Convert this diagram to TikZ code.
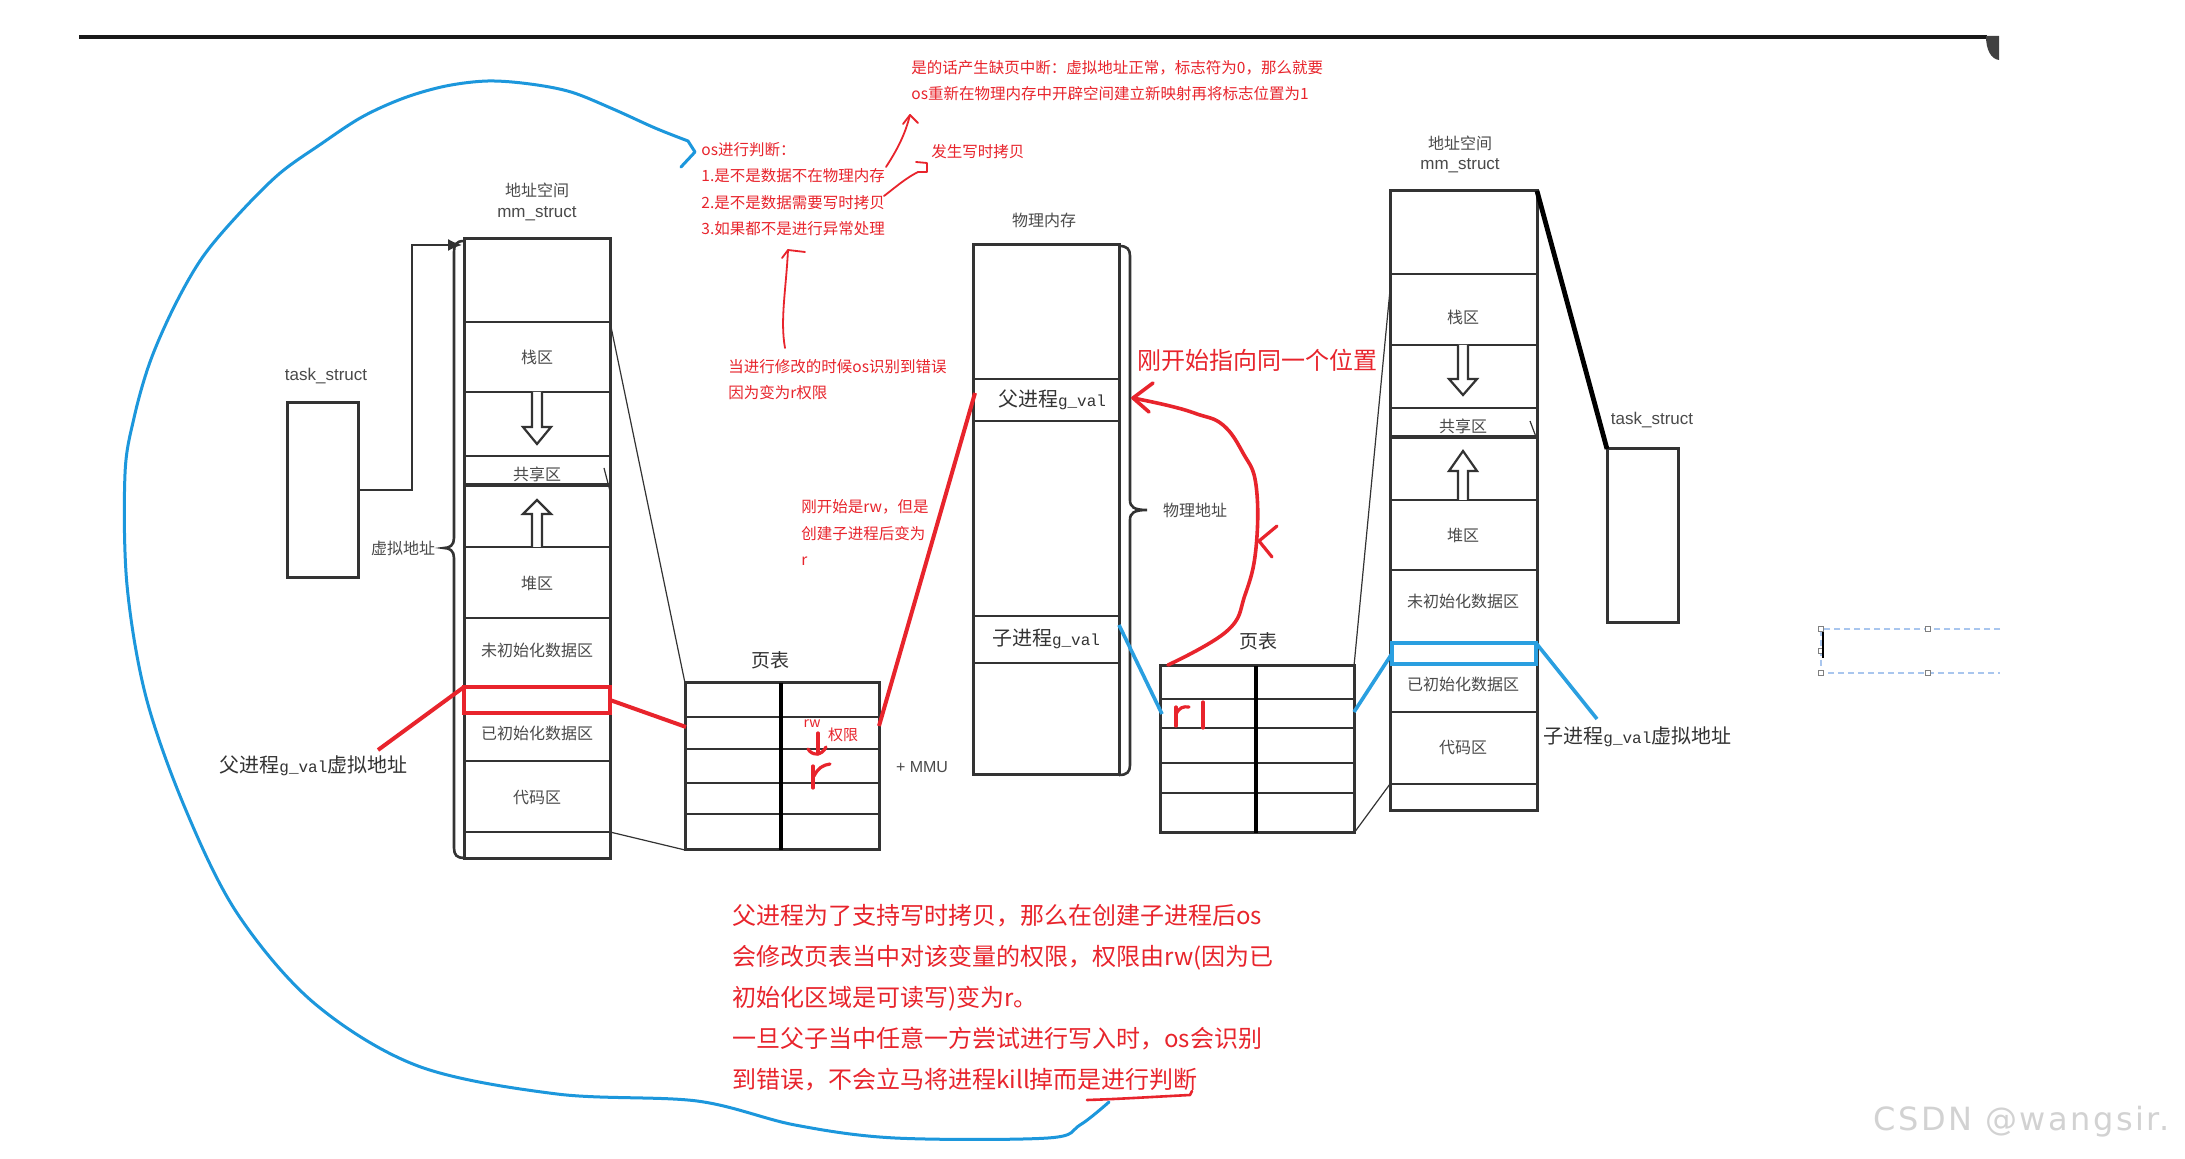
\documentclass[tikz,border=0pt]{standalone}
\usepackage{fontspec}
\setmainfont{Liberation Sans}
\newfontfamily\cjk{Noto Sans CJK SC}
\newfontfamily\monof{Liberation Mono}
\newfontfamily\wmfont[LetterSpace=8]{DejaVu Sans}
\usetikzlibrary{arrows.meta}
\definecolor{boxc}{HTML}{333333}
\definecolor{lblc}{HTML}{4A4A4A}
\definecolor{redc}{HTML}{E8242C}
\definecolor{bluec}{HTML}{2A9FE0}
\definecolor{curvec}{HTML}{1C97DC}
\definecolor{wmc}{HTML}{D2D2D2}
\definecolor{selc}{HTML}{A9C6EE}
\tikzset{
  pxrect/.style 2 args={minimum width=#1*0.5pt, minimum height=#2*0.5pt, anchor=north west, inner sep=0pt, outer sep=0pt},
  boxline/.style={draw=boxc, line width=1.5pt},
  rowline/.style={draw=boxc, line width=1.2pt},
  thinline/.style={draw=black!80, line width=0.6pt},
  midcol/.style={draw=black, line width=1.8pt},
  lbl/.style={text=lblc, inner sep=0pt, font=\cjk\fontsize{8}{9}\selectfont},
  latlbl/.style={text=lblc, inner sep=0pt, font=\fontsize{8.5}{10}\selectfont},
  vallbl/.style={text=boxc, inner sep=0pt, font=\cjk\fontsize{10}{11}\selectfont},
  rednote/.style={text=redc, inner sep=0pt, anchor=base west, align=left, font=\cjk\fontsize{7.75}{13.25}\selectfont},
  bignote/.style={text=redc, inner sep=0pt, anchor=base west, align=left, font=\cjk\fontsize{12}{20.5}\selectfont},
  redline/.style={draw=redc, line width=2pt},
  redpen/.style={draw=redc, line width=0.9pt, line cap=round, line join=round},
  redthick/.style={draw=redc, line width=1.6pt, line cap=round, line join=round},
  blueline/.style={draw=bluec, line width=1.8pt},
}
\newcommand\hollowarr[4]{\draw[draw=boxc, line width=1.1pt, fill=white] (#1-5,#2) -- (#1-5,#3) -- (#1-14,#3) -- (#1,#4) -- (#1+14,#3) -- (#1+5,#3) -- (#1+5,#2);}
\begin{document}
\begin{tikzpicture}[x=0.5pt,y=-0.5pt]
\useasboundingbox (0,0) rectangle (2185,1159);
\fill[white] (0,0) rectangle (2185,1159);
% top rule
\draw[draw=black!90, line width=2pt] (79,37) -- (1987,37);
\fill[black!75] (1986,36) -- (1999,36) -- (1999,60) .. controls (1991,59) and (1986,50) .. (1986,36) -- cycle;

% ---------- left task_struct ----------
\node[latlbl] (ltasklbl) at (326,376) {task\_struct};
\node[boxline, pxrect={71}{175}] (ltask) at (287,403) {};

% ---------- left mm_struct ----------
\node[lbl] (lmmt1) at (537,190) {地址空间};
\node[latlbl] (lmmt2) at (537,214) {mm\_struct};
\node[boxline, pxrect={146}{620}] (lmm) at (464,239) {};
\draw[rowline] (464,322) -- (610,322);
\draw[rowline] (464,392) -- (610,392);
\draw[rowline] (464,456) -- (610,456);
\draw[rowline, line width=1.8pt] (464,485) -- (610,485);
\draw[rowline] (464,547) -- (610,547);
\draw[rowline] (464,618) -- (610,618);
\draw[rowline] (464,687) -- (610,687);
\draw[rowline] (464,761) -- (610,761);
\draw[rowline] (464,832) -- (610,832);
\hollowarr{537}{392}{427}{444}
\hollowarr{537}{547}{514}{500}
\node[lbl] (lstack) at (537,357) {栈区};
\node[lbl] (lshare) at (537,474) {共享区};
\node[lbl] (lheap) at (537,583) {堆区};
\node[lbl] (lbss) at (537,650) {未初始化数据区};
\node[lbl] (ldata) at (537,733) {已初始化数据区};
\node[lbl] (lcode) at (537,798) {代码区};
\draw[thinline] (604,468) -- (610,491);
% brace of virtual addresses
\draw[boxline, line width=1.3pt] (464,241) .. controls (456,241) and (454,245) .. (454,252) -- (454,538) .. controls (454,545) and (450,548) .. (444,548) .. controls (450,548) and (454,551) .. (454,558) -- (454,848) .. controls (454,855) and (457,858) .. (464,858);
\node[lbl] (vaddr) at (403,548) {虚拟地址};
% task_struct -> mm_struct
\coordinate (lmmin) at (462,245);
\draw[draw=boxc, line width=1pt, -{Latex[length=7pt,width=6pt]}] (ltask.east) -- (412,490.5) |- (lmmin);

% red highlighted variable (parent)
\node[draw=redc, line width=2pt, pxrect={146}{26}] (redbox) at (464,687) {};
\node[vallbl, anchor=west] (lvlabel) at (219,766) {父进程{\monof\fontsize{8}{10}\selectfont g\_val}虚拟地址};
\coordinate (lvlend) at (378,750);
\draw[redline] (lvlend) -- (redbox.north west);

% ---------- left page table ----------
\node[vallbl, font=\cjk\fontsize{9.5}{10}\selectfont] (lptt) at (770,660) {页表};
\node[boxline, pxrect={194}{167}] (lpt) at (685,683) {};
\draw[rowline] (685,717) -- (879,717);
\draw[rowline] (685,749) -- (879,749);
\draw[rowline] (685,783) -- (879,783);
\draw[rowline] (685,814) -- (879,814);
\draw[midcol] (781,683) -- (781,850);
\draw[thinline] (610,322) -- (lpt.north west);
\draw[thinline] (610,832) -- (lpt.south west);
\coordinate (lptin) at (686,727);
\draw[redline] (redbox.east) -- (lptin);
\node[latlbl, font=\fontsize{8}{9}\selectfont] (mmu) at (922,767) {+ MMU};
\node[text=redc, inner sep=0pt, font=\cjk\fontsize{7}{8}\selectfont] (rwsmall) at (812,724) {rw};
\node[text=redc, inner sep=0pt, font=\cjk\fontsize{7.5}{8}\selectfont] (permlbl) at (843,735) {权限};
\draw[redthick] (818,733) -- (818,754);
\draw[redthick] (808,749) .. controls (812,756) and (822,756) .. (826,747);
\draw[redthick] (813,766) -- (813,788);
\draw[redthick] (814,776) .. controls (818,768) and (823,765) .. (830,764);

% ---------- physical memory ----------
\node[lbl] (physt) at (1044,220) {物理内存};
\node[boxline, pxrect={146}{530}] (phys) at (973,245) {};
\draw[rowline] (973,379) -- (1119,379);
\draw[rowline] (973,421) -- (1119,421);
\draw[rowline] (973,616) -- (1119,616);
\draw[rowline] (973,663) -- (1119,663);
\node[vallbl] (pval) at (1052,400) {父进程{\monof\fontsize{8}{10}\selectfont g\_val}};
\node[vallbl] (cval) at (1046,639) {子进程{\monof\fontsize{8}{10}\selectfont g\_val}};
\draw[boxline, line width=1.3pt] (1119,246) .. controls (1127,246) and (1130,249) .. (1130,256) -- (1130,500) .. controls (1130,507) and (1134,510) .. (1147,510) .. controls (1134,510) and (1130,513) .. (1130,520) -- (1130,765) .. controls (1130,772) and (1127,775) .. (1119,775);
\node[lbl] (physaddr) at (1195,510) {物理地址};
\coordinate (lptout) at (879,726);
\coordinate (pvalin) at (975,393);
\draw[redline] (lptout) -- (pvalin);

% ---------- right page table ----------
\node[vallbl, font=\cjk\fontsize{9.5}{10}\selectfont] (rptt) at (1258,641) {页表};
\node[boxline, pxrect={194}{167}] (rpt) at (1160,666) {};
\draw[rowline] (1160,699) -- (1354,699);
\draw[rowline] (1160,728) -- (1354,728);
\draw[rowline] (1160,763) -- (1354,763);
\draw[rowline] (1160,793) -- (1354,793);
\draw[midcol] (1256,666) -- (1256,833);
\draw[redthick] (1176,707) -- (1176,726);
\draw[redthick] (1176,714) .. controls (1179,708) and (1183,706) .. (1189,707);
\draw[redthick] (1203,702) -- (1203,728);
\coordinate (cvalout) at (1119,625);
\coordinate (rptin) at (1162,714);
\draw[blueline] (cvalout) -- (rptin);

% red arc: both point to the same place
\coordinate (arcs) at (1168,665);
\coordinate (arce) at (1133,398);
\draw[redthick, line width=1.8pt] plot[smooth, tension=0.7] coordinates {(arcs) (1227,631) (1245,595) (1256,548) (1256,485) (1243,453) (1223,425) (1197,414) (1170,406) (arce)};
\draw[redthick, line width=1.8pt] (1153,383) -- (arce) -- (1149,412);
\draw[redthick] (1277,526) -- (1259,541) -- (1272,557);
\node[bignote] (samepos) at (1137,370) {刚开始指向同一个位置};

% ---------- right mm_struct ----------
\node[lbl] (rmmt1) at (1460,143) {地址空间};
\node[latlbl] (rmmt2) at (1460,166) {mm\_struct};
\node[boxline, pxrect={147}{620}] (rmm) at (1390,191) {};
\draw[rowline] (1390,274) -- (1537,274);
\draw[rowline] (1390,345) -- (1537,345);
\draw[rowline] (1390,408) -- (1537,408);
\draw[rowline, line width=1.8pt] (1390,437) -- (1537,437);
\draw[rowline] (1390,500) -- (1537,500);
\draw[rowline] (1390,570) -- (1537,570);
\draw[rowline] (1390,642) -- (1537,642);
\draw[rowline] (1390,712) -- (1537,712);
\draw[rowline] (1390,784) -- (1537,784);
\hollowarr{1463}{345}{379}{395}
\hollowarr{1463}{500}{471}{451}
\node[lbl] (rstack) at (1463,317) {栈区};
\node[lbl] (rshare) at (1463,426) {共享区};
\node[lbl] (rheap) at (1463,535) {堆区};
\node[lbl] (rbss) at (1463,601) {未初始化数据区};
\node[lbl] (rdata) at (1463,684) {已初始化数据区};
\node[lbl] (rcode) at (1463,748) {代码区};
\draw[thinline] (1530,421) -- (1536,437);
\node[draw=bluec, line width=2pt, pxrect={144}{21}] (bluebox) at (1392,643) {};
\coordinate (rptout) at (1354,712);
\draw[blueline] (rptout) -- (bluebox.west);
\coordinate (rvlend) at (1597,719);
\draw[blueline] (bluebox.north east) -- (rvlend);
\node[vallbl, anchor=west] (rvlabel) at (1543,737) {子进程{\monof\fontsize{8}{10}\selectfont g\_val}虚拟地址};
\coordinate (rmmtop) at (1390,290);
\draw[thinline] (rpt.north east) -- (rmmtop);
\coordinate (rmmbot) at (1390,784);
\draw[thinline] (rpt.south east) -- (rmmbot);

% ---------- right task_struct ----------
\node[latlbl] (rtasklbl) at (1652,420) {task\_struct};
\node[boxline, pxrect={71}{174}] (rtask) at (1607,449) {};
\draw[draw=black, line width=2.4pt] (rmm.north east) -- (rtask.north west);

% ---------- red annotations (anchored at the baseline of the last line) ----------
\node[rednote] (faultnote) at (911,100) {是的话产生缺页中断：虚拟地址正常，标志符为0，那么就要\\os重新在物理内存中开辟空间建立新映射再将标志位置为1};
\node[rednote] (osjudge) at (701,235) {os进行判断：\\1.是不是数据不在物理内存\\2.是不是数据需要写时拷贝\\3.如果都不是进行异常处理};
\node[rednote] (cow) at (931,158) {发生写时拷贝};
\node[rednote, font=\cjk\fontsize{7.75}{13}\selectfont] (modnote) at (728,399) {当进行修改的时候os识别到错误\\因为变为r权限};
\node[rednote] (rwnote) at (801,566) {刚开始是rw，但是\\创建子进程后变为\\r};
\coordinate (a1s) at (886,167);
\coordinate (a1e) at (910,115);
\draw[redpen] (a1s) .. controls (897,150) and (905,135) .. (a1e);
\draw[redpen] (903,124) -- (a1e) -- (918,123);
\coordinate (a2s) at (884,196);
\draw[redpen] (a2s) .. controls (897,186) and (906,178) .. (918,172) -- (927,172) -- (927,163) -- (916,162);
\coordinate (a3s) at (785,348);
\coordinate (a3e) at (788,250);
\draw[redpen] (a3s) .. controls (780,320) and (786,290) .. (a3e);
\draw[redpen] (782,258) -- (a3e) -- (805,252);

% ---------- bottom paragraph ----------
\node[bignote] (para) at (732,1088) {父进程为了支持写时拷贝，那么在创建子进程后os\\会修改页表当中对该变量的权限，权限由rw(因为已\\初始化区域是可读写)变为r。\\一旦父子当中任意一方尝试进行写入时，os会识别\\到错误，不会立马将进程kill掉而是进行判断};
\draw[redthick, line width=1.3pt] (1087,1100) .. controls (1120,1099) and (1150,1097) .. (1190,1095) -- (1192,1091);

% ---------- blue loop ----------
\draw[draw=curvec, line width=1.5pt, line cap=round, line join=round] plot[smooth, tension=0.55] coordinates {(1109,1102) (1080,1125) (1048,1138) (895,1138) (795,1125) (697,1101) (557,1094) (418,1066) (314,1003) (237,913) (185,808) (146,697) (127,585) (125,474) (134,418) (150,362) (174,307) (202,258) (237,216) (279,174) (321,144) (362,117) (404,98) (446,86) (488,81) (530,84) (571,92) (613,109) (655,128) (688,141)} -- (695,152) -- (681,167);

% ---------- selection frame ----------
\draw[draw=selc, dash pattern=on 3pt off 2pt, line width=0.8pt] (2000,629) -- (1821,629) -- (1821,673) -- (2000,673);
\foreach \hx/\hy in {1821/629, 1928/629, 1821/651, 1821/673, 1928/673}
  \draw[draw=gray, fill=white, line width=0.4pt] (\hx-2.5,\hy-2.5) rectangle (\hx+2.5,\hy+2.5);
\draw[black, line width=0.7pt] (1823,632) -- (1823,658);

% watermark
\node[text=wmc, inner sep=0pt, anchor=west, font=\wmfont\fontsize{16}{18}\selectfont] (wm) at (1873,1122) {CSDN @wangsir.};
\end{tikzpicture}
\end{document}
